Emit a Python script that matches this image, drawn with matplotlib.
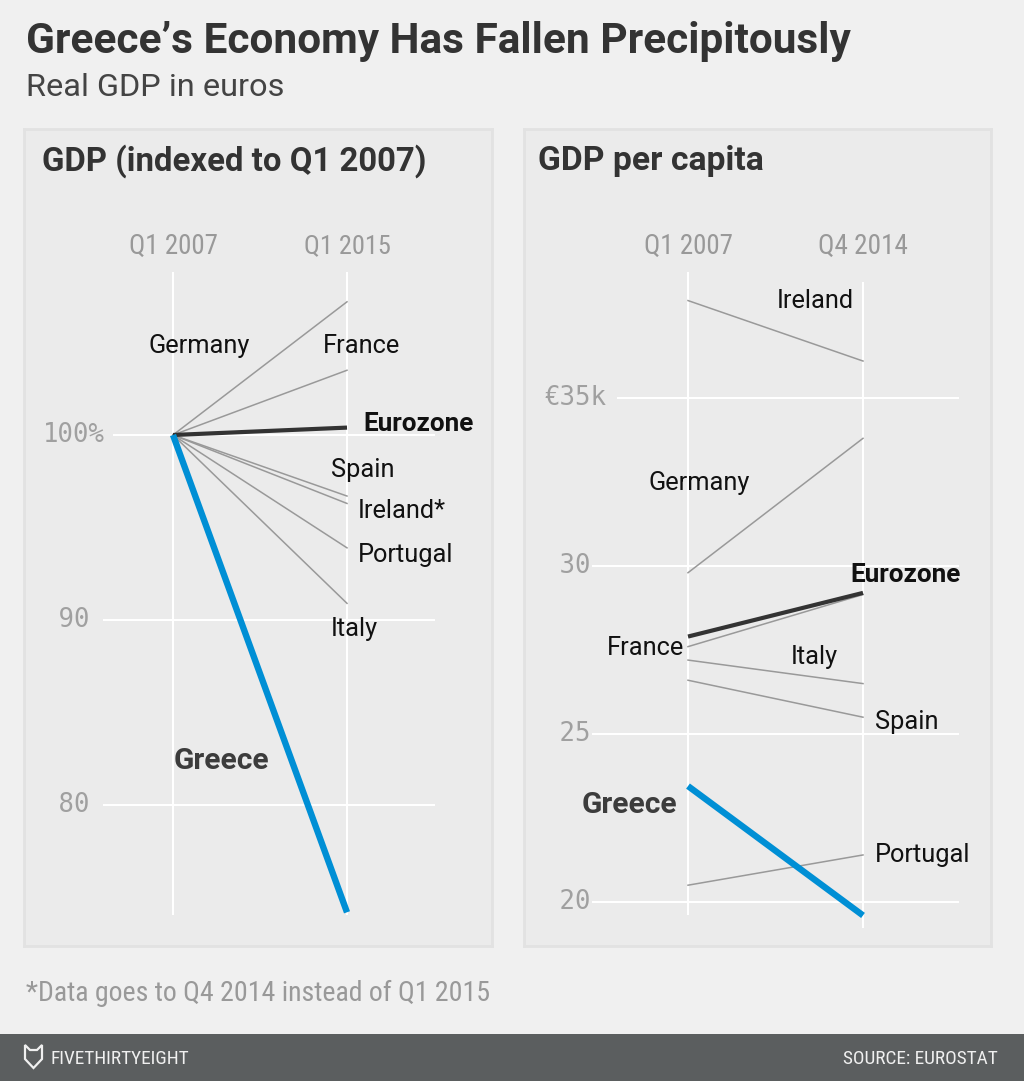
import os
import matplotlib
matplotlib.use("Agg")
import matplotlib.pyplot as plt
from matplotlib import font_manager
from matplotlib.patches import Rectangle, Polygon

# ── DATA ──────────────────────────────────────────────────────────────────────
periods_left  = ["Q1 2007", "Q1 2015"]
periods_right = ["Q1 2007", "Q4 2014"]

# GDP indexed to Q1 2007 (=100)
countries_idx = ["Germany", "France", "Eurozone", "Spain", "Ireland", "Portugal", "Italy", "Greece"]
gdp_idx_start = [100, 100, 100, 100, 100, 100, 100, 100]
gdp_idx_end   = [107.2, 103.5, 100.4, 96.7, 96.3, 93.9, 90.9, 74.2]

# GDP per capita, thousand euros
countries_pc = ["Ireland", "Germany", "Eurozone", "France", "Italy", "Spain", "Greece", "Portugal"]
gdp_pc_start = [37.9, 29.8, 27.9, 27.6, 27.2, 26.6, 23.45, 20.5]
gdp_pc_end   = [36.1, 33.8, 29.2, 29.15, 26.5, 25.5, 19.6, 21.4]

idx_ticks       = [100, 90, 80]
idx_tick_labels = ["100%", " 90", " 80"]
pc_ticks        = [35, 30, 25, 20]
pc_tick_labels  = ["€35k", " 30", " 25", " 20"]

# ── STYLE ─────────────────────────────────────────────────────────────────────
W, H, DPI = 1024, 1081, 100
BG      = "#f0f0f0"
PANEL   = "#ebebeb"
EDGE    = "#e2e2e2"
GREY    = "#999999"
DARK    = "#333333"
BLUE    = "#008fd5"

names = {f.name for f in font_manager.fontManager.ttflist}
SANS  = "Roboto" if "Roboto" in names else "DejaVu Sans"
MONO  = "DejaVu Sans Mono"

def find_condensed():
    # look for a narrow sans among the installed files
    prefs = ["robotocondensed-regular", "roboto_condensed-regular", "notosans-condensed.ttf",
             "liberationsansnarrow-regular", "dejavusanscondensed.ttf"]
    files = [f.fname for f in font_manager.fontManager.ttflist]
    for p in prefs:
        for f in files:
            if p in os.path.basename(f).lower():
                return font_manager.FontProperties(fname=f)
    return font_manager.FontProperties(family=SANS)

COND = find_condensed()

def line_style(name):
    if name == "Greece":
        return dict(color=BLUE, lw=4.6, zorder=4, solid_capstyle="butt")
    if name == "Eurozone":
        return dict(color=DARK, lw=3.0, zorder=3, solid_capstyle="butt")
    return dict(color=GREY, lw=1.1, zorder=2)

def label_style(name):
    if name == "Greece":
        return dict(fontweight="bold", color="#3c3c3c", fontsize=21.5)
    if name == "Eurozone":
        return dict(fontweight="bold", color="#111111", fontsize=18.8)
    return dict(color="#111111", fontsize=18.3)

fig = plt.figure(figsize=(W / DPI, H / DPI), dpi=DPI, facecolor=BG)
to_fit = []   # (text, target width in px)

def cond_text(ax_or_fig, x, y, s, width, **kw):
    t = ax_or_fig.text(x, y, s, fontproperties=COND, **kw)
    t.set_fontsize(18)
    to_fit.append((t, width))
    return t

def make_panel(rect, x0_px, x1_px, ya_px, ya_val, yb_px, yb_val):
    # rect = (left, top, right, bottom) in figure pixels
    l, t, r, b = rect
    ax = fig.add_axes([l / W, 1 - b / H, (r - l) / W, (b - t) / H])
    xs = x1_px - x0_px
    ax.set_xlim((l - x0_px) / xs, (r - x0_px) / xs)
    ppu = (yb_px - ya_px) / (ya_val - yb_val)
    ax.set_ylim(ya_val - (b - ya_px) / ppu, ya_val + (ya_px - t) / ppu)
    ax.set_facecolor(PANEL)
    ax.set_xticks([]); ax.set_yticks([])
    for s in ax.spines.values():
        s.set_color(EDGE); s.set_linewidth(2)
    return ax

# ── LEFT: GDP indexed ─────────────────────────────────────────────────────────
ax1 = make_panel((24, 129, 492, 946), 173, 347, 435, 100, 620, 90)
t = ax1.text(0.038, 0.961, "GDP (indexed to Q1 2007)", transform=ax1.transAxes,
             fontsize=23.5, fontweight="bold", color=DARK, family=SANS, va="center")
to_fit.append((t, 384))

for v in idx_ticks:
    x_start = -0.345 if v == 100 else -0.402
    ax1.hlines(v, x_start, 1.506, color="white", lw=1.5, zorder=1)
ax1.vlines([0, 1], 74.05, 108.8, color="white", lw=1.5, zorder=1)
for v, lab in zip(idx_ticks, idx_tick_labels):
    ax1.text(-0.748, v, lab, family=MONO, fontsize=18.5, color="#a0a0a0", va="center", ha="left")
for i, (p, w) in enumerate(zip(periods_left, [89, 87])):
    cond_text(ax1, i, 110.2, p, w, color=GREY, ha="center", va="center")

for name, s, e in zip(countries_idx, gdp_idx_start, gdp_idx_end):
    ax1.plot([0, 1], [s, e], **line_style(name))

idx_label_pos = {
    "Germany":  (-0.138, 104.8),
    "France":   (0.862, 104.8),
    "Eurozone": (1.092, 100.6),
    "Spain":    (0.908, 98.1),
    "Ireland":  (1.063, 95.9),
    "Portugal": (1.063, 93.5),
    "Italy":    (0.908, 89.5),
    "Greece":   (0.006, 82.4),
}
for name in countries_idx:
    x, y = idx_label_pos[name]
    txt = name + "*" if name == "Ireland" else name
    ax1.text(x, y, txt, family=SANS, ha="left", va="center", zorder=6, **label_style(name))

# ── RIGHT: GDP per capita ────────────────────────────────────────────────────
ax2 = make_panel((524, 129, 991, 946), 688, 863, 566, 30, 734, 25)
t = ax2.text(0.030, 0.961, "GDP per capita", transform=ax2.transAxes,
             fontsize=23.5, fontweight="bold", color=DARK, family=SANS, va="center")
to_fit.append((t, 225))

for v in pc_ticks:
    x_start = -0.406 if v == 35 else -0.549
    ax2.hlines(v, x_start, 1.549, color="white", lw=1.5, zorder=1)
ax2.vlines(0, 19.6, 38.76, color="white", lw=1.5, zorder=1)
ax2.vlines(1, 19.24, 38.46, color="white", lw=1.5, zorder=1)
for v, lab in zip(pc_ticks, pc_tick_labels):
    ax2.text(-0.822, v, lab, family=MONO, fontsize=18.5, color="#a0a0a0", va="center", ha="left")
for i, (p, w) in enumerate(zip(periods_right, [89, 90])):
    cond_text(ax2, i, 39.5, p, w, color=GREY, ha="center", va="center")

for name, s, e in zip(countries_pc, gdp_pc_start, gdp_pc_end):
    ax2.plot([0, 1], [s, e], **line_style(name))

pc_label_pos = {
    "Ireland":  (0.509, 37.9),
    "Germany":  (-0.223, 32.47),
    "Eurozone": (0.926, 29.73),
    "France":   (-0.463, 27.57),
    "Italy":    (0.589, 27.3),
    "Spain":    (1.069, 25.37),
    "Greece":   (-0.606, 22.88),
    "Portugal": (1.069, 21.4),
}
for name in countries_pc:
    x, y = pc_label_pos[name]
    ax2.text(x, y, name, family=SANS, ha="left", va="center", zorder=6, **label_style(name))

# ── HEADER / FOOTER ───────────────────────────────────────────────────────────
t = fig.text(26 / W, 1 - 42 / H, "Greece\u2019s Economy Has Fallen Precipitously",
             fontsize=30.5, fontweight="bold", color=DARK, family=SANS, va="center")
to_fit.append((t, 824))
t = fig.text(26 / W, 1 - 87 / H, "Real GDP in euros",
             fontsize=23, color="#444444", family=SANS, va="center")
to_fit.append((t, 259))
cond_text(fig, 26 / W, 1 - 993 / H, "*Data goes to Q4 2014 instead of Q1 2015", 465,
          color=GREY, va="center")

fig.patches.append(Rectangle((0, 0), 1, (H - 1034) / H, transform=fig.transFigure,
                             facecolor="#5b5e5f", edgecolor="none", zorder=0))
# little fox-head logo outline
fox = [(25, 1045), (30, 1050), (37, 1050), (42, 1045), (42, 1059), (33.5, 1068), (25, 1059)]
fig.patches.append(Polygon([(x / W, 1 - y / H) for x, y in fox], closed=True,
                           transform=fig.transFigure, facecolor="none",
                           edgecolor="#f0f0f0", lw=1.6, zorder=1))
cond_text(fig, 51 / W, 1 - 1059 / H, "FIVETHIRTYEIGHT", 139, color="#f0f0f0", va="center")
cond_text(fig, 998 / W, 1 - 1059 / H, "SOURCE: EUROSTAT", 155, color="#f0f0f0",
          va="center", ha="right")

# scale the text sizes so their widths match the layout
fig.canvas.draw()
rend = fig.canvas.get_renderer()
for t, w in to_fit:
    cur = t.get_window_extent(rend).width
    t.set_fontsize(t.get_fontsize() * w / cur)

fig.savefig("out.png", dpi=DPI, facecolor=BG)
